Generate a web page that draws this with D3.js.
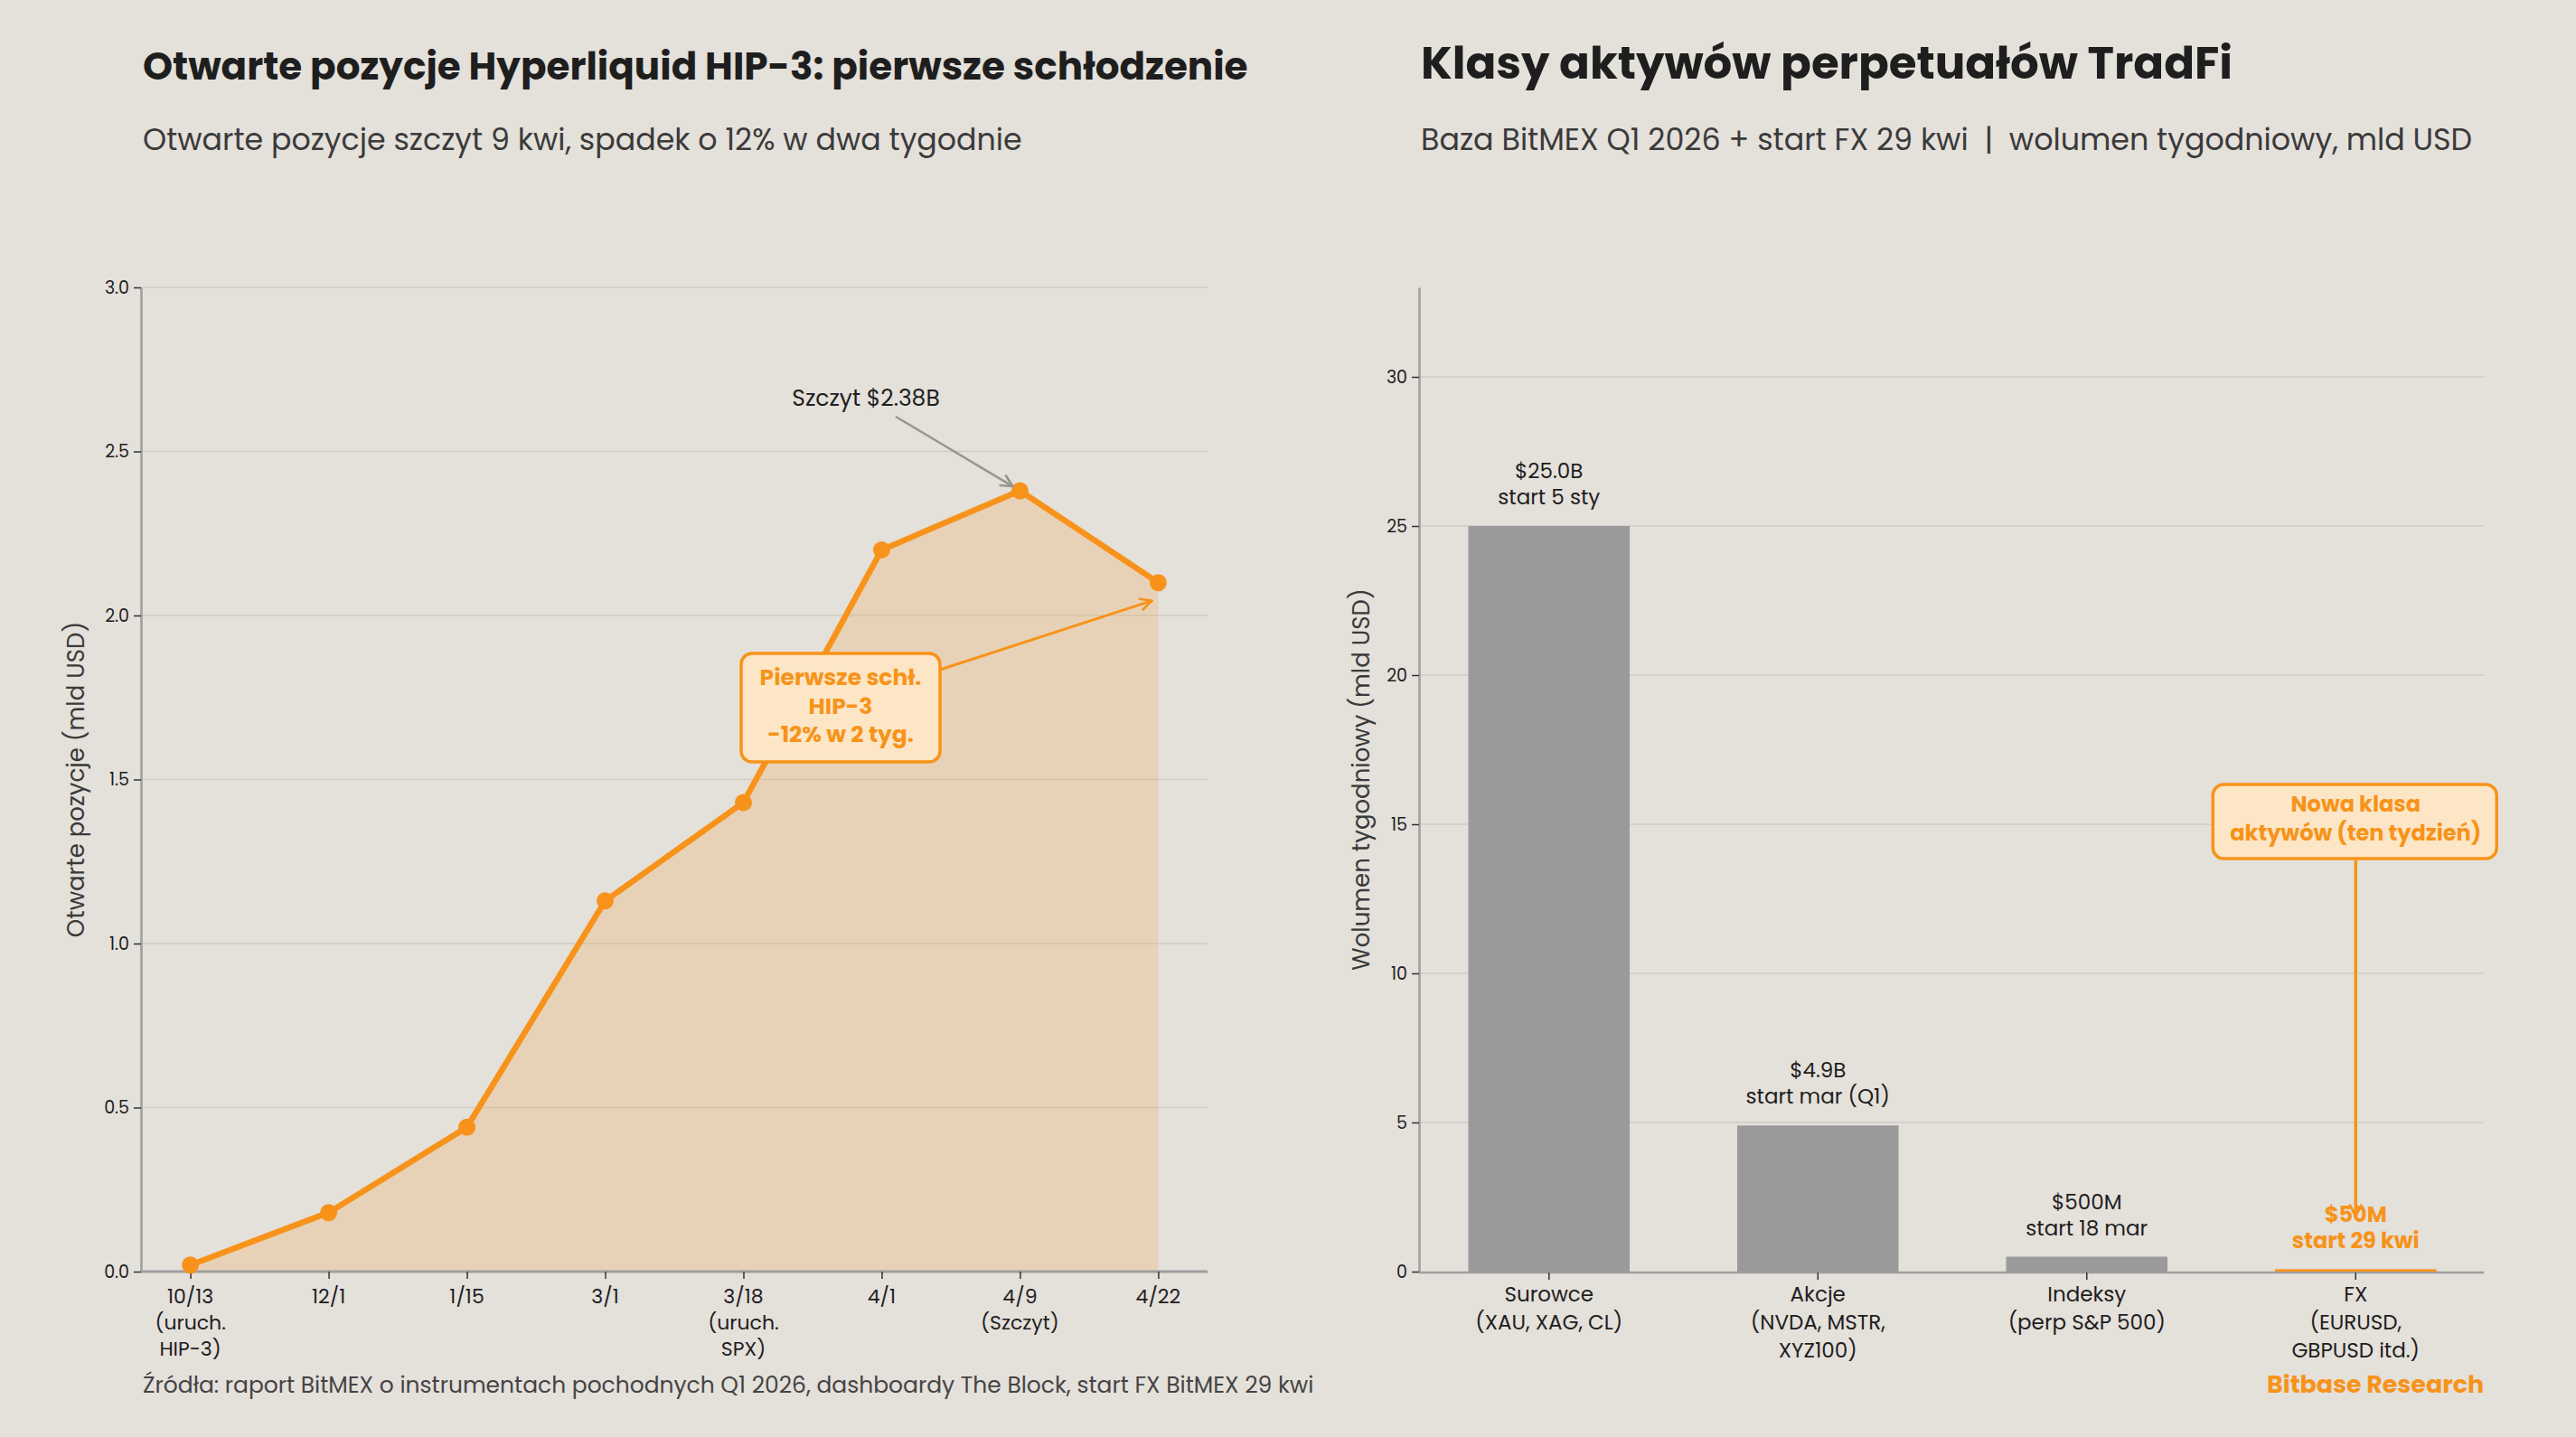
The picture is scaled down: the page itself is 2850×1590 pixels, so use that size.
<!DOCTYPE html>
<html><head><meta charset="utf-8">
<script src="https://cdn.jsdelivr.net/npm/d3@7"></script>
<style>
body{margin:0;background:#e4e0da;}
svg{display:block;}
text{font-family:Poppins,'Open Sans',sans-serif;}
</style></head>
<body><svg id="c" width="2850" height="1590"></svg>
<script>
// ---------- data ----------
const oiDates = ["10/13","12/1","1/15","3/1","3/18","4/1","4/9","4/22"];
const oiDateSub = [["(uruch.","HIP-3)"],[],[],[],["(uruch.","SPX)"],[],["(Szczyt)"],[]];
const oiValues = [0.02,0.18,0.44,1.13,1.43,2.20,2.38,2.10];
const oiTicks = [0,0.5,1.0,1.5,2.0,2.5,3.0];

const classNames = ["Surowce","Akcje","Indeksy","FX"];
const classSub = [["(XAU, XAG, CL)"],["(NVDA, MSTR,","XYZ100)"],["(perp S&P 500)"],["(EURUSD,","GBPUSD itd.)"]];
const classVolume = [25.0,4.9,0.5,0.05];
const classValueLabel = ["$25.0B","$4.9B","$500M","$50M"];
const classStartLabel = ["start 5 sty","start mar (Q1)","start 18 mar","start 29 kwi"];
const volTicks = [0,5,10,15,20,25,30];

const titleL = "Otwarte pozycje Hyperliquid HIP-3: pierwsze schłodzenie";
const subL = "Otwarte pozycje szczyt 9 kwi, spadek o 12% w dwa tygodnie";
const titleR = "Klasy aktywów perpetuałów TradFi";
const subR = "Baza BitMEX Q1 2026 + start FX 29 kwi  |  wolumen tygodniowy, mld USD";
const sourceTxt = "Źródła: raport BitMEX o instrumentach pochodnych Q1 2026, dashboardy The Block, start FX BitMEX 29 kwi";

// ---------- style ----------
const ORANGE = "#f7931a", GRID = "#d1ccc5", SPINE = "#9e9e9e", INK = "#1e1e1e", BAR = "#9a9a9a";
const svg = d3.select("#c");
svg.append("rect").attr("width",2850).attr("height",1590).attr("fill","#e4e0da");

const defs = svg.append("defs");
function marker(id,color){
  defs.append("marker").attr("id",id).attr("viewBox","0 0 12 12").attr("refX",11).attr("refY",6)
    .attr("markerWidth",16).attr("markerHeight",16).attr("markerUnits","userSpaceOnUse").attr("orient","auto")
    .append("path").attr("d","M1,1 L11,6 L1,11").attr("fill","none").attr("stroke",color).attr("stroke-width",2);
}
marker("arrGray","#999690"); marker("arrOr",ORANGE);

function fitText(sel, w){
  const fs = parseFloat(sel.attr("font-size"));
  const cur = sel.node().getComputedTextLength();
  sel.attr("font-size", fs*w/cur);
  return fs*w/cur;
}
// titles
const tL = svg.append("text").attr("x",158).attr("y",88).attr("font-size",40).attr("font-weight",700).attr("fill",INK).text(titleL);
fitText(tL,1223);
const tR = svg.append("text").attr("x",1572).attr("y",87).attr("font-size",46).attr("font-weight",700).attr("fill",INK).text(titleR);
fitText(tR,898);
const sL = svg.append("text").attr("x",158).attr("y",166).attr("font-size",30).attr("fill","#3a3a3a").text(subL);
const sfs = fitText(sL,973);
const sR = svg.append("text").attr("x",1572).attr("y",166).attr("font-size",sfs).attr("fill","#3a3a3a")
  .style("white-space","pre").attr("xml:space","preserve").text(subR);
fitText(sR,1163);

// ---------- left chart ----------
const L = {x0:156,x1:1336,y0:1407,y1:318};
const x = d3.scalePoint().domain(oiDates).range([L.x0,L.x1]).padding(0.357);
const y = d3.scaleLinear().domain([0,3]).range([L.y0,L.y1]);
const gL = svg.append("g");
gL.selectAll(".grid").data(oiTicks.slice(1)).join("line")
  .attr("x1",L.x0).attr("x2",L.x1).attr("y1",d=>y(d)).attr("y2",d=>y(d)).attr("stroke",GRID).attr("stroke-width",1.5);

const ax = gL.append("g").attr("transform",`translate(${L.x0},0)`)
  .call(d3.axisLeft(y).tickValues(oiTicks).tickFormat(d3.format(".1f")).tickSize(8).tickSizeOuter(0));
ax.select(".domain").attr("stroke",SPINE).attr("stroke-width",2.5);
ax.selectAll(".tick line").attr("stroke","#333").attr("stroke-width",1.5);
ax.selectAll(".tick text").attr("font-size",19).attr("fill",INK).attr("font-family","'DejaVu Sans',sans-serif").attr("dx",-2);

const data = oiDates.map((d,i)=>({d,v:oiValues[i]}));
gL.append("path").datum(data).attr("fill",ORANGE).attr("fill-opacity",0.18)
  .attr("d",d3.area().x(p=>x(p.d)).y0(y(0)).y1(p=>y(p.v)));

const bx = gL.append("g").attr("transform",`translate(0,${L.y0})`)
  .call(d3.axisBottom(x).tickSize(8).tickSizeOuter(0).tickFormat(""));
bx.select(".domain").attr("d",`M${L.x0},0H${L.x1}`).attr("stroke",SPINE).attr("stroke-width",3);
bx.selectAll(".tick line").attr("stroke","#333").attr("stroke-width",1.5);
oiDates.forEach((d,i)=>{
  const lines=[d].concat(oiDateSub[i]);
  lines.forEach((t,j)=>{
    gL.append("text").attr("x",x(d)).attr("y",1442+j*29).attr("text-anchor","middle")
      .attr("font-size",22).attr("fill",INK).text(t);
  });
});

gL.append("path").datum(data).attr("fill","none").attr("stroke",ORANGE).attr("stroke-width",6.5)
  .attr("stroke-linejoin","round").attr("d",d3.line().x(p=>x(p.d)).y(p=>y(p.v)));
gL.selectAll(".dot").data(data).join("circle").attr("cx",p=>x(p.d)).attr("cy",p=>y(p.v)).attr("r",9.5).attr("fill",ORANGE);

// y label
gL.append("text").attr("transform",`translate(93,${(L.y0+L.y1)/2}) rotate(-90)`).attr("text-anchor","middle")
  .attr("font-size",26).attr("fill","#3a3a3a").text("Otwarte pozycje (mld USD)");

// peak annotation
const pk = 6;
gL.append("text").attr("x",958).attr("y",449).attr("text-anchor","middle").attr("font-size",25).attr("fill",INK)
  .text("Szczyt $" + oiValues[pk].toFixed(2) + "B");
gL.append("line").attr("x1",991).attr("y1",461).attr("x2",x(oiDates[pk])-8).attr("y2",y(oiValues[pk])-5)
  .attr("stroke","#999690").attr("stroke-width",2.5).attr("marker-end","url(#arrGray)");

// cooling annotation
const last = oiDates.length-1;
gL.append("line").attr("x1",1040).attr("y1",741).attr("x2",x(oiDates[last])-7).attr("y2",y(oiValues[last])+20)
  .attr("stroke",ORANGE).attr("stroke-width",3).attr("marker-end","url(#arrOr)");
gL.append("rect").attr("x",820).attr("y",723).attr("width",220).attr("height",120).attr("rx",12)
  .attr("fill","#fde6c6").attr("stroke",ORANGE).attr("stroke-width",3.5);
["Pierwsze schł.","HIP-3","-12% w 2 tyg."].forEach((t,j)=>{
  gL.append("text").attr("x",930).attr("y",758+j*31.5).attr("text-anchor","middle").attr("font-size",25)
    .attr("font-weight",700).attr("fill",ORANGE).text(t);
});

// source
const src = svg.append("text").attr("x",158).attr("y",1541).attr("font-size",23).attr("fill","#444").text(sourceTxt);
fitText(src,1296);
const bb = svg.append("text").attr("x",2748).attr("y",1541).attr("text-anchor","end").attr("font-size",25)
  .attr("font-weight",700).attr("fill",ORANGE).text("Bitbase Research");
fitText(bb,240);

// ---------- right chart ----------
const R = {x0:1570,x1:2748,y0:1407,y1:318};
const xb = d3.scaleBand().domain(classNames).range([1565,2755]).paddingInner(0.4).paddingOuter(0.2);
const yb = d3.scaleLinear().domain([0,33]).range([R.y0,R.y1]);
const gR = svg.append("g");
gR.selectAll(".grid").data(volTicks.slice(1)).join("line")
  .attr("x1",R.x0).attr("x2",R.x1).attr("y1",d=>yb(d)).attr("y2",d=>yb(d)).attr("stroke",GRID).attr("stroke-width",1.5);
const ay = gR.append("g").attr("transform",`translate(${R.x0},0)`)
  .call(d3.axisLeft(yb).tickValues(volTicks).tickSize(8).tickSizeOuter(0));
ay.select(".domain").attr("stroke",SPINE).attr("stroke-width",2.5);
ay.selectAll(".tick line").attr("stroke","#333").attr("stroke-width",1.5);
ay.selectAll(".tick text").attr("font-size",19).attr("fill",INK).attr("font-family","'DejaVu Sans',sans-serif").attr("dx",-2);

const by = gR.append("g").attr("transform",`translate(0,${R.y0+1})`)
  .call(d3.axisBottom(xb).tickSize(8).tickSizeOuter(0).tickFormat(""));
by.select(".domain").attr("d",`M${R.x0},0H${R.x1}`).attr("stroke",SPINE).attr("stroke-width",2.5);
by.selectAll(".tick line").attr("stroke","#333").attr("stroke-width",1.5);

gR.selectAll(".bar").data(classNames).join("rect")
  .attr("x",d=>xb(d)).attr("width",xb.bandwidth())
  .attr("y",(d,i)=>yb(classVolume[i])-(i===3?1:0)).attr("height",(d,i)=>yb(0)-yb(classVolume[i])+(i===3?1:0))
  .attr("fill",(d,i)=>i===3?ORANGE:BAR);

classNames.forEach((d,i)=>{
  const cx = xb(d)+xb.bandwidth()/2;
  [d].concat(classSub[i]).forEach((t,j)=>{
    gR.append("text").attr("x",cx).attr("y",1440+j*31).attr("text-anchor","middle").attr("font-size",23).attr("fill",INK).text(t);
  });
  const top = yb(classVolume[i]);
  const hl = i===3;
  [classValueLabel[i],classStartLabel[i]].forEach((t,j)=>{
    gR.append("text").attr("x",cx).attr("y",top-53+j*29).attr("text-anchor","middle").attr("font-size",hl?24:23)
      .attr("font-weight",hl?700:400).attr("fill",hl?ORANGE:INK).text(t);
  });
});

gR.append("text").attr("transform",`translate(1515,${(R.y0+R.y1)/2}) rotate(-90)`).attr("text-anchor","middle")
  .attr("font-size",26).attr("fill","#3a3a3a").text("Wolumen tygodniowy (mld USD)");

// new class annotation
const fxX = xb("FX")+xb.bandwidth()/2;
gR.append("line").attr("x1",fxX).attr("y1",952).attr("x2",fxX).attr("y2",1346)
  .attr("stroke",ORANGE).attr("stroke-width",3.5).attr("marker-end","url(#arrOr)");
gR.append("rect").attr("x",fxX-158).attr("y",868).attr("width",314).attr("height",82).attr("rx",12)
  .attr("fill","#fde6c6").attr("stroke",ORANGE).attr("stroke-width",3.5);
["Nowa klasa","aktywów (ten tydzień)"].forEach((t,j)=>{
  gR.append("text").attr("x",fxX).attr("y",898+j*32).attr("text-anchor","middle").attr("font-size",24)
    .attr("font-weight",700).attr("fill",ORANGE).text(t);
});
</script></body></html>
